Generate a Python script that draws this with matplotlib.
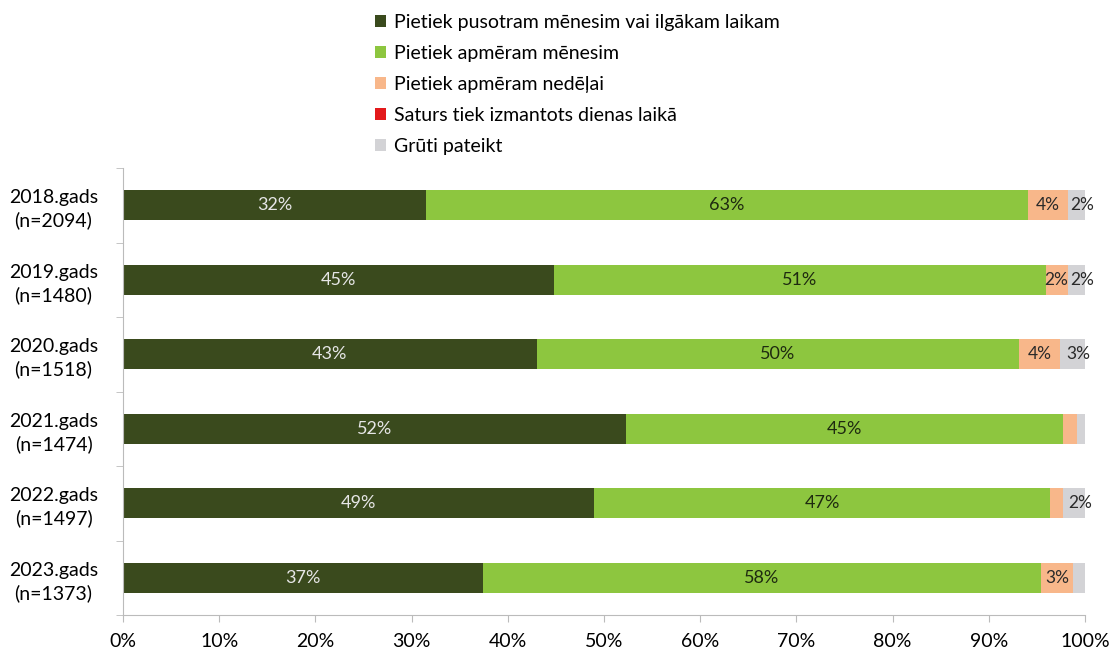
import matplotlib.pyplot as plt
import numpy as np

plt.rcParams['font.family'] = ['Lato', 'DejaVu Sans']

years = ["2018.gads\n(n=2094)", "2019.gads\n(n=1480)", "2020.gads\n(n=1518)",
         "2021.gads\n(n=1474)", "2022.gads\n(n=1497)", "2023.gads\n(n=1373)"]
series_names = ["Pietiek pusotram mēnesim vai ilgākam laikam",
                "Pietiek apmēram mēnesim",
                "Pietiek apmēram nedēļai",
                "Saturs tiek izmantots dienas laikā",
                "Grūti pateikt"]
long_term = [31.5, 44.8, 43.0, 52.3, 49.0, 37.4]
month = [62.6, 51.1, 50.1, 45.4, 47.4, 58.0]
week = [4.1, 2.3, 4.3, 1.5, 1.3, 3.4]
day = [0, 0, 0, 0, 0, 0]
hard = [1.8, 1.8, 2.6, 0.8, 2.3, 1.2]
# which segments carry a label (as printed in the original)
labels_shown = [
    [True, True, True, False, True],
    [True, True, True, False, True],
    [True, True, True, False, True],
    [True, True, False, False, False],
    [True, True, False, False, True],
    [True, True, True, False, False],
]

colors = ["#3a4a1d", "#8dc63f", "#f8b78a", "#e3191b", "#d3d3d6"]
text_colors = ["#e6e6e6", "#1e2a10", "#2a2a2a", "#2a2a2a", "#2a2a2a"]

fig = plt.figure(figsize=(11.16, 6.54), dpi=100)
ax = fig.add_axes([123 / 1116, 1 - 615 / 654, (1085 - 123) / 1116, (615 - 168) / 654])

data = [long_term, month, week, day, hard]
y = np.arange(len(years))
left = np.zeros(len(years))
handles = []
for i, vals in enumerate(data):
    vals = np.array(vals)
    h = ax.barh(y, vals, left=left, height=0.4, color=colors[i], label=series_names[i])
    handles.append(h)
    for j, v in enumerate(vals):
        if labels_shown[j][i]:
            xpos = left[j] + v / 2
            if i == 4:
                xpos += 0.6  # small segments at the end: label spills past the bar
            ax.text(xpos, y[j], f"{round(v):.0f}%", ha="center", va="center",
                    fontsize=13 if i < 2 else 12.5, color=text_colors[i], clip_on=False)
    left += vals

ax.set_xlim(0, 100)
ax.set_ylim(len(years) - 0.5, -0.5)
ax.set_yticks(y)
ax.set_yticklabels(years, fontsize=14, linespacing=1.35, ha="center")
ax.set_yticks(np.arange(-0.5, len(years), 1), minor=True)
ax.tick_params(axis="y", which="major", length=0, pad=50)
ax.tick_params(axis="y", which="minor", length=5, color="#bbbbbb", direction="out")
ax.set_xticks(np.arange(0, 101, 10))
ax.set_xticklabels([f"{t}%" for t in range(0, 101, 10)], fontsize=14)
ax.tick_params(axis="x", length=5, color="#bbbbbb", pad=8)
for s in ["top", "right"]:
    ax.spines[s].set_visible(False)
ax.spines["left"].set_color("#bbbbbb")
ax.spines["bottom"].set_color("#bbbbbb")

fig.legend(handles=handles, loc="upper left", bbox_to_anchor=(358 / 1116, 1.005),
           frameon=False, fontsize=14, handlelength=0.55, handleheight=0.55,
           handletextpad=0.4, labelspacing=0.72)

fig.savefig("out.png", dpi=100)
